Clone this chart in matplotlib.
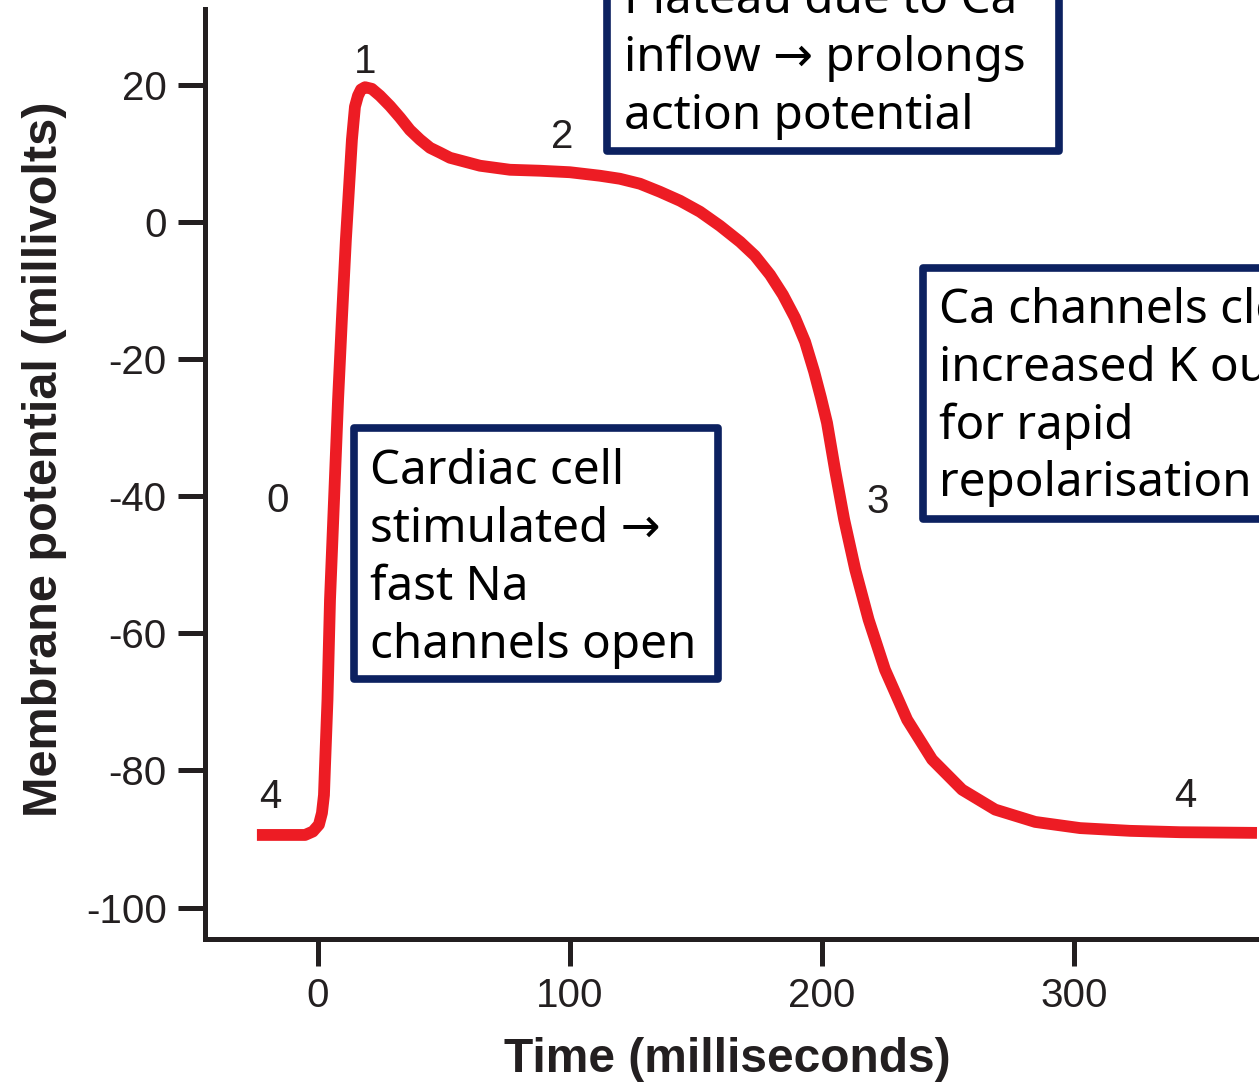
import matplotlib
matplotlib.use('Agg')
import matplotlib.pyplot as plt
from matplotlib.patches import Rectangle

plt.rcParams['axes.unicode_minus'] = False

# action potential trace (ms, mV)
time_ms = [-24.1, -5.0, -1.9, 0.5, 1.7, 2.5, 2.9, 3.9, 4.9, 6.5, 8.1, 9.6, 11.2,
           12.4, 13.6, 14.8, 16.0, 17.2, 18.8, 21.5, 24.7, 28.7, 32.7, 36.6,
           40.6, 44.6, 48.5, 52.5, 64.4, 76.3, 88.2, 100.1, 112.0, 119.9, 127.9,
           135.8, 143.8, 151.7, 159.6, 167.6, 173.5, 179.5, 184.6, 189.4, 193.4,
           197.0, 199.7, 202.1, 205.3, 208.9, 213.3, 218.6, 225.1, 233.9, 243.8,
           255.7, 268.8, 284.7, 302.5, 322.3, 342.1, 372.7]
potential_mv = [-89.4, -89.4, -88.9, -87.9, -86.2, -83.6, -79.5, -69.7, -55.1,
                -40.5, -25.9, -14.3, -2.6, 4.7, 12.0, 16.8, 18.4, 19.3, 19.64,
                19.4, 18.4, 16.9, 15.2, 13.4, 12.0, 10.8, 10.1, 9.35, 8.19, 7.6,
                7.46, 7.24, 6.73, 6.29, 5.56, 4.39, 3.08, 1.48, -0.57, -2.91,
                -4.94, -7.71, -10.63, -13.98, -17.49, -21.86, -25.65, -29.3,
                -36.2, -43.4, -50.7, -58.0, -65.3, -72.6, -78.4, -82.8, -85.7,
                -87.5, -88.4, -88.8, -89.0, -89.1]

x_ticks = [0, 100, 200, 300]
y_ticks = [20, 0, -20, -40, -60, -80, -100]

# phase numbers
phase_labels = ['4', '0', '1', '2', '3', '4']
phase_x = [-18.9, -15.8, 18.8, 97.0, 222.3, 344.2]
phase_y = [-85.5, -42.3, 21.75, 10.8, -42.4, -85.3]

# annotation boxes: (left, right, bottom, top) in data units, text start, lines
boxes = [
    dict(rect=(14.4, 158.9, -66.6, -30.0), x=20.9, y=-38.2,
         lines=['Cardiac cell', 'stimulated \u2192', 'fast Na', 'channels open']),
    dict(rect=(114.8, 294.2, 10.4, 36.8), x=121.7, y=30.4,
         lines=['Plateau due to Ca', 'inflow \u2192 prolongs', 'action potential']),
    dict(rect=(240.2, 429.5, -43.3, -6.7), x=246.7, y=-14.7,
         lines=['Ca channels close', 'increased K outflow', 'for rapid',
                'repolarisation']),
]

dark = '#231F20'
red = '#ED1C24'
navy = '#0C2160'

fig = plt.figure(figsize=(12.59, 10.88), dpi=100)
ax = fig.add_axes([205 / 1259, 1 - 938.5 / 1088, 1 - 205 / 1259, (938.5 - 9.3) / 1088])

ax.plot(time_ms, potential_mv, color=red, lw=8.5, solid_joinstyle='round',
        solid_capstyle='butt', zorder=3)

ax.set_xlim(-44.7, 373.5)
ax.set_ylim(-104.5, 31.0)
ax.set_xticks(x_ticks)
ax.set_yticks(y_ticks)

for s in ['top', 'right']:
    ax.spines[s].set_visible(False)
for s in ['left', 'bottom']:
    ax.spines[s].set_linewidth(3.6)
    ax.spines[s].set_color(dark)
    ax.spines[s].set_capstyle('projecting')

ax.tick_params(direction='out', length=19.5, width=3.6, color=dark, pad=8,
               labelsize=29, labelcolor=dark)
for lab in ax.get_xticklabels() + ax.get_yticklabels():
    lab.set_family('Liberation Sans')

ax.set_xlabel('Time (milliseconds)', fontsize=34.5, fontweight='bold',
              family='Liberation Sans', color=dark)
ax.xaxis.label.set_va('baseline')
ax.xaxis.set_label_coords(0.4957, -0.1437)
ax.set_ylabel('Membrane potential (millivolts)', fontsize=35, fontweight='bold',
              family='Liberation Sans', color=dark)
ax.yaxis.label.set_va('baseline')
ax.yaxis.set_label_coords(-0.1404, 0.516)

for lab, x, y in zip(phase_labels, phase_x, phase_y):
    ax.text(x, y, lab, ha='center', va='baseline', fontsize=29,
            family='Liberation Sans', color=dark)

step = 57.9 / 6.856
for b in boxes:
    x0, x1, y0, y1 = b['rect']
    ax.add_patch(Rectangle((x0, y0), x1 - x0, y1 - y0, facecolor='white',
                           edgecolor=navy, lw=5.5, joinstyle='round',
                           clip_on=False, zorder=4))
    for i, line in enumerate(b['lines']):
        ax.text(b['x'], b['y'] - i * step, line, ha='left', va='baseline',
                fontsize=34.3, family=['Noto Sans', 'DejaVu Sans'], color='black',
                zorder=5, clip_on=False)

fig.savefig('out.png', dpi=100)
